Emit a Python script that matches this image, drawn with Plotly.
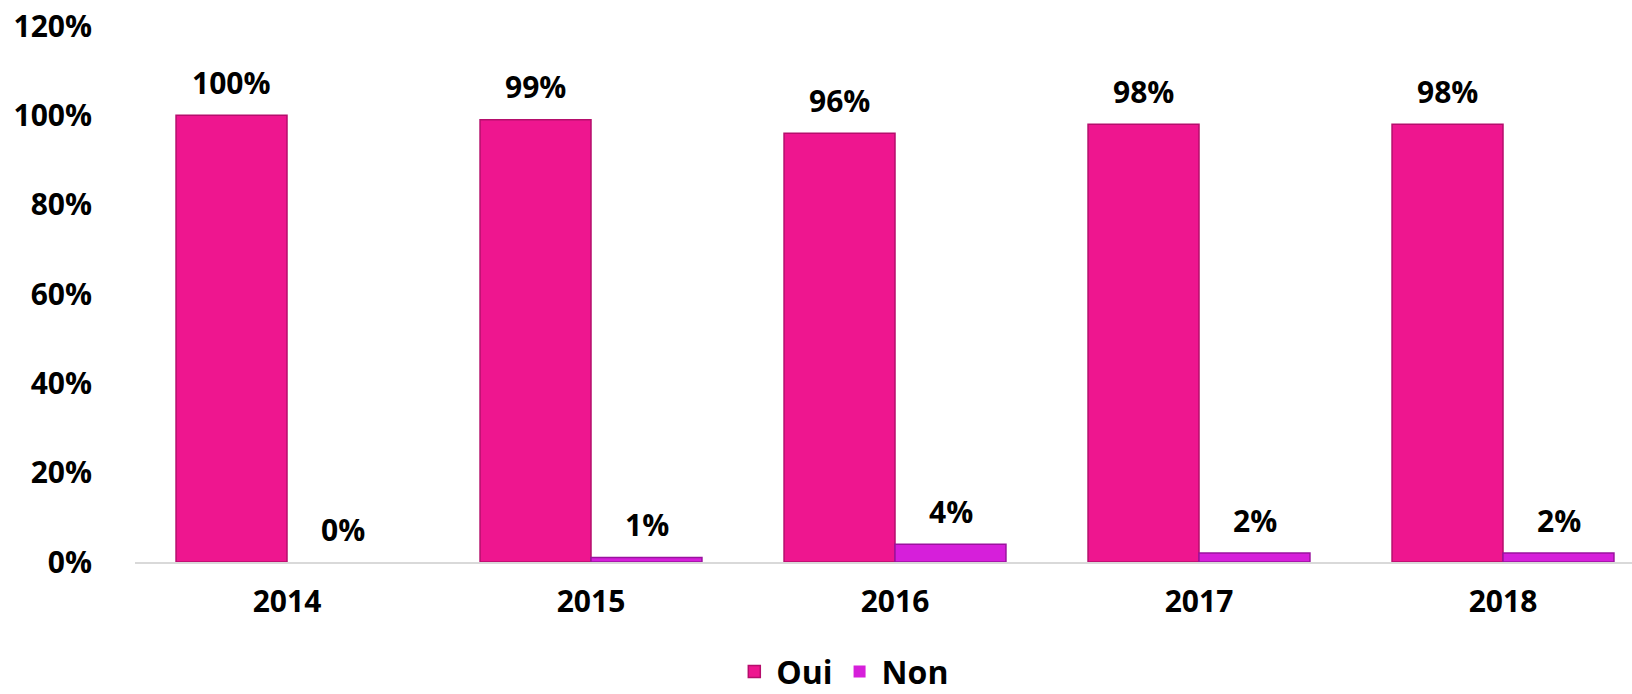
import plotly.graph_objects as go

years = ["2014", "2015", "2016", "2017", "2018"]
oui = [100, 99, 96, 98, 98]
non = [0, 1, 4, 2, 2]
series_names = ["Oui", "Non"]
colors = ["#EE168F", "#D61FDA"]
lines = ["#B50E6C", "#9A139E"]
y_ticks = [0, 20, 40, 60, 80, 100, 120]

FONT = "Open Sans"
FS = 30

fig = go.Figure()
for name, vals, c, lc in zip(series_names, [oui, non], colors, lines):
    fig.add_trace(go.Bar(
        x=years, y=vals, name=name,
        marker=dict(color=c, line=dict(color=lc, width=[1.5 if v > 0 else 0 for v in vals])),
    ))

annotations = []
for vals, shift in [(oui, -55.5), (non, 55.5)]:
    for i, v in enumerate(vals):
        annotations.append(dict(
            x=i, y=v, xref="x", yref="y", text=f"<b>{v}%</b>",
            showarrow=False, xshift=shift, yshift=33, yanchor="middle",
            font=dict(family=FONT, size=FS, color="black"),
        ))

fig.update_layout(
    width=1632, height=694,
    margin=dict(l=135, r=0, t=26, b=132),
    paper_bgcolor="white", plot_bgcolor="white",
    barmode="group", bargap=0.27, bargroupgap=0,
    annotations=annotations,
    showlegend=True,
    legend=dict(
        orientation="h", x=0.399, xanchor="left",
        yref="container", y=0.032, yanchor="middle",
        font=dict(family=FONT, size=32, color="black", weight="bold"),
        itemwidth=34, tracegroupgap=0,
    ),
    xaxis=dict(
        type="category", automargin=False,
        range=[-0.5, -0.5 + 1497 / 304],
        showgrid=False, showline=True, linecolor="#D9D9D9", linewidth=2,
        ticks="", ticklabelstandoff=12,
        tickfont=dict(family=FONT, size=FS, color="black", weight="bold"),
    ),
    yaxis=dict(
        automargin=False, ticklabeloverflow="allow",
        range=[0, 120], tickvals=y_ticks, ticktext=[f"{t}%" for t in y_ticks],
        showgrid=False, zeroline=False, showline=False, ticks="",
        ticklabelstandoff=42,
        tickfont=dict(family=FONT, size=FS, color="black", weight="bold"),
    ),
)

fig.write_html(
    "out.html",
    config={"displayModeBar": False},
    post_script="document.body.style.margin='0';",
)
